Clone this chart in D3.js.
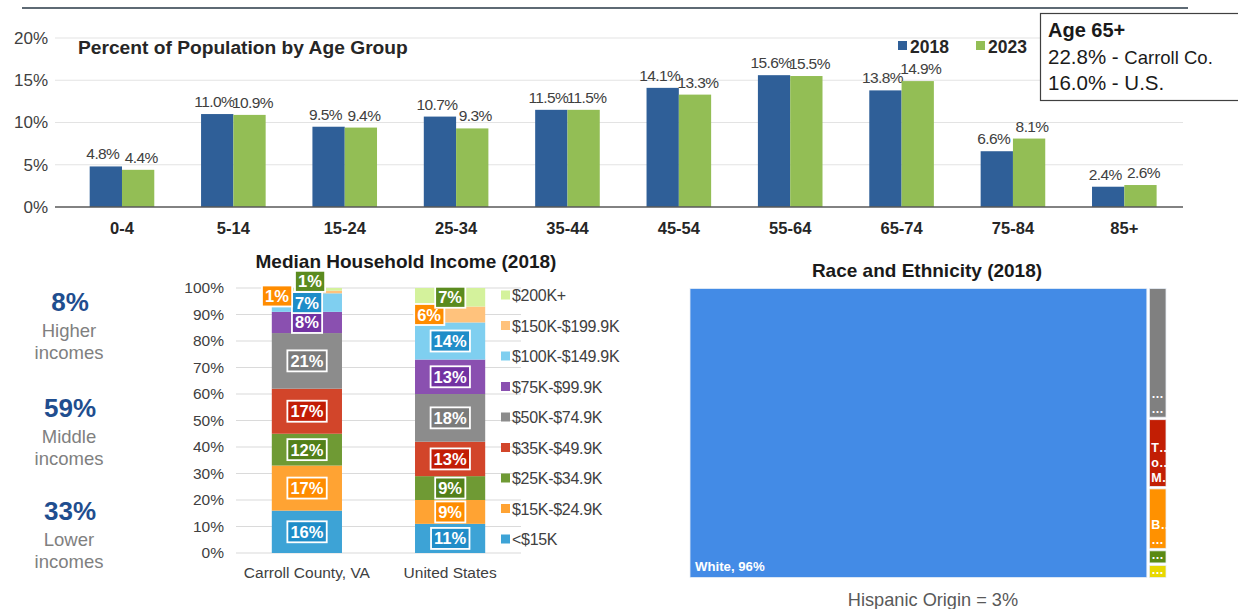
<!DOCTYPE html>
<html>
<head>
<meta charset="utf-8">
<script src="https://cdn.jsdelivr.net/npm/d3@7/dist/d3.min.js"></script>
<style>
  html, body { margin: 0; padding: 0; background: #fff; }
  svg { display: block; font-family: "Liberation Sans", Arial, sans-serif; }
</style>
</head>
<body>
<svg id="chart" width="1238" height="609"></svg>
<script>
// ---------- DATA ----------
const ageGroups = ["0-4","5-14","15-24","25-34","35-44","45-54","55-64","65-74","75-84","85+"];
const pop2018 = [4.8, 11.0, 9.5, 10.7, 11.5, 14.1, 15.6, 13.8, 6.6, 2.4];
const pop2023 = [4.4, 10.9, 9.4, 9.3, 11.5, 13.3, 15.5, 14.9, 8.1, 2.6];
const popYears = ["2018", "2023"];
const popTicks = [0, 5, 10, 15, 20];

const incomeCats = ["Carroll County, VA", "United States"];
const incomeBrackets = ["<$15K","$15K-$24.9K","$25K-$34.9K","$35K-$49.9K","$50K-$74.9K","$75K-$99.9K","$100K-$149.9K","$150K-$199.9K","$200K+"];
const carrollIncome = [16, 17, 12, 17, 21, 8, 7, 1, 1];
const usIncome = [11, 9, 9, 13, 18, 13, 14, 6, 7];
const incomeTicks = [0,10,20,30,40,50,60,70,80,90,100];

const incomeGroupValues = ["8%", "59%", "33%"];
const incomeGroupNames = [["Higher","incomes"], ["Middle","incomes"], ["Lower","incomes"]];

const raceNames = ["White", "Other", "Two or More Races", "Black", "Asian", "American Indian"];
const raceValues = [96, 1.8, 0.95, 0.85, 0.2, 0.2];
const raceShown = [["White, 96%"], ["…","…"], ["T…","o…","M…"], ["B…","…"], ["…"], ["…"]];

const age65Lines = ["Age 65+", "22.8%", "Carroll Co.", "16.0%", "U.S."];

// ---------- STYLE ----------
const FONT_TXT = "#404040";
const popColors = ["#2F5F98", "#93BE55"];
const incomeColors = ["#3DA3D6","#FFA333","#6F9A34","#D2452A","#8C8C8C","#8A50B0","#7FCFF0","#FFC27C","#D4F29C"];
const incomeBoxColors = ["#1F8DC8","#FF8C00","#52801A","#C21D05","#7B7B7B","#7232A2","#1F8DC8","#FF8C00","#5B8B1F"];
const raceColors = ["#438BE6","#808080","#C21E04","#FF9100","#5A8A14","#E8D800"];
const incomeNudge = {"0|8": [3, -8], "0|7": [-30, 4], "1|7": [-21, 0]};

const svg = d3.select("#chart");

// ---------- TOP RULE ----------
svg.append("line").attr("x1", 22).attr("x2", 1188).attr("y1", 8).attr("y2", 8)
  .attr("stroke", "#5E6A74").attr("stroke-width", 2);

// ---------- AGE CHART ----------
const ay = d3.scaleLinear().domain([0, 20]).range([207, 38]);
const ax = d3.scaleBand().domain(ageGroups).range([66.3, 1180]).paddingInner(0.42).paddingOuter(0.21);
const ax2 = d3.scaleBand().domain(popYears).range([0, ax.bandwidth()]);

const ageG = svg.append("g");
ageG.selectAll("line.grid").data(popTicks.filter(t => t > 0)).enter().append("line")
  .attr("x1", 55).attr("x2", 1183).attr("y1", d => ay(d)).attr("y2", d => ay(d))
  .attr("stroke", "#E3E3E3").attr("stroke-width", 1.2);

const ayAxis = ageG.append("g").attr("transform", "translate(55,0)")
  .call(d3.axisLeft(ay).tickValues(popTicks).tickFormat(d => d + "%").tickSize(0).tickPadding(7));
ayAxis.select(".domain").remove();
ayAxis.selectAll("text").attr("font-size", 17).attr("fill", FONT_TXT).attr("font-family", "Liberation Sans, Arial, sans-serif");

const popSeries = [pop2018, pop2023];
const labelShift = [-3, 3];
popYears.forEach((yr, si) => {
  const vals = popSeries[si];
  ageG.selectAll("rect.s" + si).data(ageGroups).enter().append("rect")
    .attr("x", d => ax(d) + ax2(yr))
    .attr("y", (d, i) => ay(vals[i]))
    .attr("width", ax2.bandwidth())
    .attr("height", (d, i) => ay(0) - ay(vals[i]))
    .attr("fill", popColors[si]);
  ageG.selectAll("text.l" + si).data(ageGroups).enter().append("text")
    .attr("x", d => ax(d) + ax2(yr) + ax2.bandwidth() / 2 + labelShift[si])
    .attr("y", (d, i) => ay(vals[i]) - 7)
    .attr("text-anchor", "middle").attr("font-size", 15.5).attr("letter-spacing", "-0.6px")
    .attr("fill", FONT_TXT)
    .text((d, i) => vals[i].toFixed(1) + "%");
});

const axBottom = ageG.append("g").attr("transform", "translate(0," + ay(0) + ")")
  .call(d3.axisBottom(ax).tickSize(0).tickPadding(15));
axBottom.select(".domain").attr("d", "M55,0H1183").attr("stroke", "#595959").attr("stroke-width", 1.3);
axBottom.selectAll("text").attr("font-size", 16.5).attr("font-weight", "bold").attr("fill", "#262626")
  .attr("font-family", "Liberation Sans, Arial, sans-serif");

ageG.append("text").attr("x", 78).attr("y", 54).attr("font-size", 19.2).attr("font-weight", "bold")
  .attr("fill", "#262626").text("Percent of Population by Age Group");

// legend
const legX = [898, 976];
popYears.forEach((yr, i) => {
  ageG.append("rect").attr("x", legX[i]).attr("y", 41).attr("width", 9).attr("height", 9).attr("fill", popColors[i]);
  ageG.append("text").attr("x", legX[i] + 12).attr("y", 52.5).attr("font-size", 17.5).attr("font-weight", "bold")
    .attr("fill", "#262626").text(yr);
});

// Age 65+ box
const box = svg.append("g");
box.append("rect").attr("x", 1040.5).attr("y", 13.5).attr("width", 220).attr("height", 87)
  .attr("fill", "#fff").attr("stroke", "#404040").attr("stroke-width", 1.2);
box.append("text").attr("x", 1048).attr("y", 37).attr("font-size", 20).attr("font-weight", "bold").attr("fill", "#1a1a1a").text(age65Lines[0]);
const t1 = box.append("text").attr("x", 1048).attr("y", 64).attr("fill", "#1a1a1a");
t1.append("tspan").attr("font-size", 20.5).text(age65Lines[1] + " - ");
t1.append("tspan").attr("font-size", 18.5).text(age65Lines[2]);
box.append("text").attr("x", 1048).attr("y", 90).attr("font-size", 20.5).attr("fill", "#1a1a1a")
  .text(age65Lines[3] + " - " + age65Lines[4]);

// ---------- INCOME GROUP SUMMARY ----------
const sumY = [302, 408, 511];
const sumG = svg.append("g");
incomeGroupValues.forEach((v, i) => {
  sumG.append("text").attr("x", 70).attr("y", sumY[i] + 9).attr("text-anchor", "middle")
    .attr("font-size", 26).attr("font-weight", "bold").attr("fill", "#1F4E8F").text(v);
  incomeGroupNames[i].forEach((n, j) => {
    sumG.append("text").attr("x", 69).attr("y", sumY[i] + 35 + j * 22).attr("text-anchor", "middle")
      .attr("font-size", 18.5).attr("fill", "#808080").text(n);
  });
});

// ---------- INCOME STACKED BAR ----------
const iy = d3.scaleLinear().domain([0, 100]).range([553, 288]);
const ix = d3.scaleBand().domain(incomeCats).range([236, 521]).paddingInner(0.51).paddingOuter(0.25);
const incG = svg.append("g");

incG.append("text").attr("x", 406).attr("y", 268).attr("text-anchor", "middle").attr("font-size", 19)
  .attr("font-weight", "bold").attr("fill", "#1a1a1a").text("Median Household Income (2018)");

incG.selectAll("line.grid").data(incomeTicks).enter().append("line")
  .attr("x1", 236).attr("x2", 521).attr("y1", d => iy(d)).attr("y2", d => iy(d))
  .attr("stroke", "#DADADA").attr("stroke-width", 1.2);

const iyAxis = incG.append("g").attr("transform", "translate(236,0)")
  .call(d3.axisLeft(iy).tickValues(incomeTicks).tickFormat(d => d + "%").tickSize(0).tickPadding(12));
iyAxis.select(".domain").remove();
iyAxis.selectAll("text").attr("font-size", 15.5).attr("fill", FONT_TXT).attr("font-family", "Liberation Sans, Arial, sans-serif");

const ixAxis = incG.append("g").attr("transform", "translate(0,553)")
  .call(d3.axisBottom(ix).tickSize(0).tickPadding(14));
ixAxis.select(".domain").remove();
ixAxis.selectAll("text").attr("font-size", 15.5).attr("fill", FONT_TXT).attr("font-family", "Liberation Sans, Arial, sans-serif");

const incomeRows = incomeCats.map((c, ci) => {
  const row = { cat: c };
  const vals = ci === 0 ? carrollIncome : usIncome;
  incomeBrackets.forEach((b, bi) => row[b] = vals[bi]);
  return row;
});
const stacked = d3.stack().keys(incomeBrackets)(incomeRows);

stacked.forEach((layer, li) => {
  incG.selectAll("rect.seg" + li).data(layer).enter().append("rect")
    .attr("x", d => ix(d.data.cat))
    .attr("y", d => iy(d[1]))
    .attr("width", ix.bandwidth())
    .attr("height", d => iy(d[0]) - iy(d[1]))
    .attr("fill", incomeColors[li]);
});
stacked.forEach((layer, li) => {
  layer.forEach((d, ci) => {
    const v = d[1] - d[0];
    const nudge = incomeNudge[ci + "|" + li] || [0, 0];
    const cx = ix(d.data.cat) + ix.bandwidth() / 2 + nudge[0];
    const cy = (iy(d[0]) + iy(d[1])) / 2 + nudge[1];
    const g = incG.append("g");
    const t = g.append("text").attr("x", cx).attr("y", cy + 6).attr("text-anchor", "middle")
      .attr("font-size", 16.5).attr("font-weight", "bold").attr("fill", "#fff").text(v + "%");
    const bb = t.node().getBBox();
    g.insert("rect", "text").attr("x", bb.x - 3).attr("y", cy - 10.5).attr("width", bb.width + 6).attr("height", 21)
      .attr("fill", incomeBoxColors[li]).attr("stroke", "#fff").attr("stroke-width", 1.8);
  });
});

// legend
const incLeg = incG.append("g");
incomeBrackets.slice().reverse().forEach((b, i) => {
  const li = incomeBrackets.length - 1 - i;
  const y = 295 + i * 30.5;
  incLeg.append("rect").attr("x", 501).attr("y", y - 4.5).attr("width", 9).attr("height", 9).attr("fill", incomeColors[li]);
  incLeg.append("text").attr("x", 512).attr("y", y + 6).attr("font-size", 16).attr("letter-spacing", "-0.3px")
    .attr("fill", FONT_TXT).text(b);
});

// ---------- RACE TREEMAP ----------
const raceG = svg.append("g");
raceG.append("text").attr("x", 927).attr("y", 277).attr("text-anchor", "middle").attr("font-size", 19)
  .attr("font-weight", "bold").attr("fill", "#1a1a1a").text("Race and Ethnicity (2018)");

const raceTree = {
  children: [
    { name: raceNames[0], value: raceValues[0], idx: 0 },
    { name: "Others", children: raceNames.slice(1).map((n, i) => ({ name: n, value: raceValues[i + 1], idx: i + 1 })) }
  ]
};
const root = d3.hierarchy(raceTree).sum(d => d.value || 0).sort((a, b) => b.value - a.value);
d3.treemap().tile(d3.treemapSliceDice).size([476, 289]).paddingInner(2.5)(root);

const leaves = raceG.append("g").attr("transform", "translate(690,288.5)").selectAll("g").data(root.leaves()).enter().append("g");
leaves.append("rect")
  .attr("x", d => d.x0).attr("y", d => d.y0)
  .attr("width", d => d.x1 - d.x0).attr("height", d => d.y1 - d.y0)
  .attr("fill", d => raceColors[d.data.idx]).attr("stroke", "#E8EEF6").attr("stroke-width", 0.8);
leaves.each(function (d) {
  const lines = raceShown[d.data.idx];
  const big = d.data.idx === 0;
  const n = lines.length;
  lines.forEach((ln, j) => {
    d3.select(this).append("text")
      .attr("x", d.x0 + (big ? 5 : 2))
      .attr("y", d.y1 - (big ? 7 : 4) - (n - 1 - j) * 15)
      .attr("font-size", big ? 13.2 : 12.5).attr("font-weight", "bold").attr("fill", "#fff").text(ln);
  });
});

raceG.append("text").attr("x", 933).attr("y", 606).attr("text-anchor", "middle").attr("font-size", 18.2)
  .attr("fill", "#595959").text("Hispanic Origin = 3%");
</script>
</body>
</html>
